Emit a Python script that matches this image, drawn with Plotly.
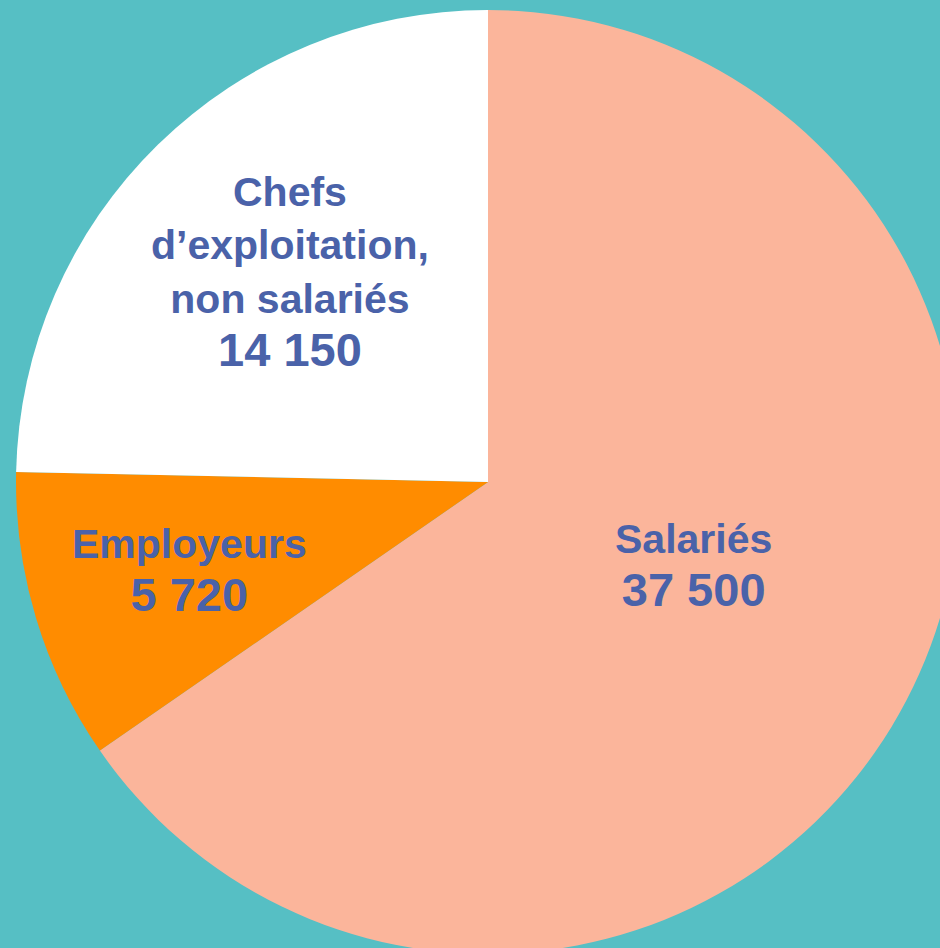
import plotly.graph_objects as go

labels = ["Salariés", "Employeurs", "Chefs d’exploitation, non salariés"]
values = [37500, 5720, 14150]
label_lines = [["Salariés"], ["Employeurs"], ["Chefs", "d’exploitation,", "non salariés"]]
value_text = ["37 500", "5 720", "14 150"]
colors = ["#FBB59B", "#FF8C00", "#FFFFFF"]

W, H = 980, 970
BG = "#56BFC4"
TXT = "#4A62A9"

fig = go.Figure(go.Pie(
    labels=labels, values=values, sort=False, direction="clockwise", rotation=0,
    marker=dict(colors=colors, line=dict(width=0)),
    textinfo="none", hoverinfo="label+value", showlegend=False,
    domain=dict(x=[16 / W, 960 / W], y=[1 - 954 / H, 1 - 10 / H]),
))

# label anchor points (pixel positions in the page)
anchors = [(693, 566), (189, 571), (290, 272)]
for lines, val, (px, py) in zip(label_lines, value_text, anchors):
    txt = "<br>".join(lines) + "<br><span style='font-size:47px'>" + val + "</span>"
    fig.add_annotation(
        x=px / W, y=1 - py / H, xref="paper", yref="paper",
        xanchor="center", yanchor="middle", showarrow=False,
        text="<b>" + txt + "</b>", align="center",
        font=dict(family="Liberation Sans, Arial, sans-serif", size=41, color=TXT),
    )

fig.update_layout(
    width=W, height=H, margin=dict(l=0, r=0, t=0, b=0),
    paper_bgcolor=BG, plot_bgcolor=BG,
)

fig.write_html("out.html", config={"displayModeBar": False},
               post_script="document.body.style.margin='0';document.body.style.overflow='hidden';")
